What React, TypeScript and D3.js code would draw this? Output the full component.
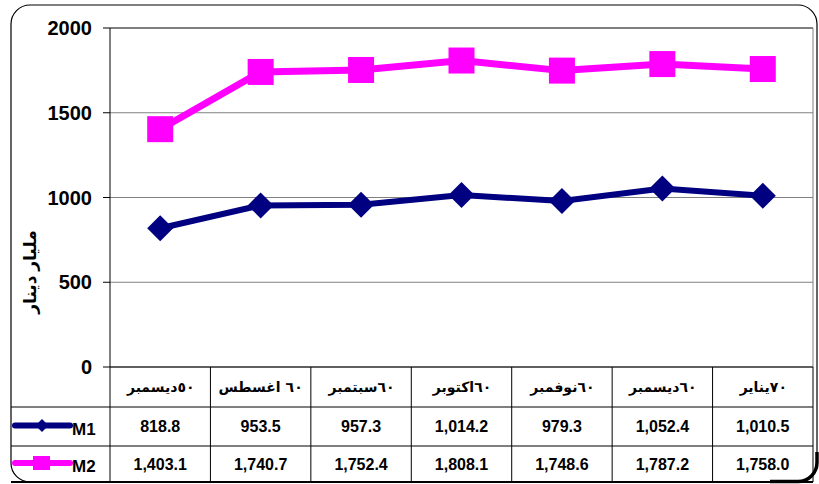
import React, { useLayoutEffect, useRef, useState } from 'react';
import * as d3 from 'd3';

// header labels: month word, then the year digits as they appear in the sheet
const monthNames = ['ديسمبر', 'اغسطس ', 'سبتمبر', 'اكتوبر', 'نوفمبر', 'ديسمبر', 'يناير'];
const yearLabels = ['٥٠', '٦٠', '٦٠', '٦٠', '٦٠', '٦٠', '٧٠'];
const categories = monthNames.map((m, i) => `${i}-${m.trim()}`);
const m1Values = [818.8, 953.5, 957.3, 1014.2, 979.3, 1052.4, 1010.5];
const m2Values = [1403.1, 1740.7, 1752.4, 1808.1, 1748.6, 1787.2, 1758.0];
const yTicks = [0, 500, 1000, 1500, 2000];
const yTitle = 'مليار دينار';

const WIDTH = 819;
const HEIGHT = 484;
const plot = { left: 110, right: 813, top: 28, bottom: 367 };
const rows = { header: 407, m1: 446, end: 482 };

const NAVY = '#000080';
const PINK = '#FF00FF';
const FONT = 'Arial, "Liberation Sans", "DejaVu Sans", sans-serif';

const fmt = d3.format(',.1f');

export default function App() {
  const headerRefs = useRef<(SVGGElement | null)[]>([]);
  const [shifts, setShifts] = useState<number[]>(monthNames.map(() => 0));

  const xBand = d3
    .scaleBand()
    .domain(categories)
    .range([plot.left, plot.right]);

  const xCenter = (c: string) => (xBand(c) || 0) + xBand.bandwidth() / 2;

  const yScale = d3
    .scaleLinear()
    .domain([0, 2000])
    .range([plot.bottom, plot.top]);

  const line = d3
    .line<number>()
    .x((_, i) => xCenter(categories[i]))
    .y(d => yScale(d))
    .curve(d3.curveLinear);

  const diamond = (cx: number, cy: number, r: number) =>
    `M${cx},${cy - r}L${cx + r},${cy}L${cx},${cy + r}L${cx - r},${cy}Z`;

  // centre each header label (two pieces) inside its cell
  useLayoutEffect(() => {
    const s = headerRefs.current.map(g => {
      if (!g) return 0;
      const b = g.getBBox();
      return -(b.x + b.width / 2);
    });
    setShifts(s);
  }, []);

  const m1Row = (rows.header + rows.m1) / 2;
  const m2Row = (rows.m1 + rows.end) / 2;
  const headerY = (plot.bottom + rows.header) / 2;

  return (
    <svg
      width={WIDTH}
      height={HEIGHT}
      style={{ position: 'absolute', left: 0, top: 0, background: '#fff' }}
      fontFamily={FONT}
    >
      {/* outer frame */}
      <rect x={11} y={5} width={806} height={477} rx={19} fill="#fff" stroke="#000" strokeWidth={1.2} />
      <path d="M 770 481.5 H 798 A 19 19 0 0 0 817 462.5 V 452" fill="none" stroke="#000" strokeWidth={3.5} />

      {/* gridlines */}
      {yTicks.map(t => (
        <line
          key={t}
          x1={plot.left}
          x2={plot.right}
          y1={yScale(t)}
          y2={yScale(t)}
          stroke={t === 2000 ? '#000' : '#808080'}
          strokeWidth={1}
        />
      ))}
      <line x1={plot.right} x2={plot.right} y1={plot.top} y2={plot.bottom} stroke="#808080" />

      {/* y axis */}
      <line x1={plot.left} x2={plot.left} y1={plot.top} y2={rows.end} stroke="#000" />
      {yTicks.map(t => (
        <g key={t} transform={`translate(0,${yScale(t)})`}>
          <line x1={plot.left - 7} x2={plot.left} stroke="#000" />
          <text x={92} dy="0.36em" textAnchor="end" fontSize={20} fontWeight="bold">
            {t}
          </text>
        </g>
      ))}
      <text
        transform={`translate(36,${272}) rotate(-90)`}
        textAnchor="middle"
        fontSize={17}
        fontWeight="bold"
        fill="#000"
      >
        {yTitle}
      </text>

      {/* series */}
      <path d={line(m2Values) || ''} fill="none" stroke={PINK} strokeWidth={7} />
      {m2Values.map((v, i) => (
        <rect
          key={i}
          x={xCenter(categories[i]) - 13}
          y={yScale(v) - 13}
          width={26}
          height={26}
          fill={PINK}
        />
      ))}
      <path d={line(m1Values) || ''} fill="none" stroke={NAVY} strokeWidth={6} />
      {m1Values.map((v, i) => (
        <path key={i} d={diamond(xCenter(categories[i]), yScale(v), 13)} fill={NAVY} />
      ))}

      {/* data table */}
      <line x1={plot.left} x2={plot.right} y1={plot.bottom} y2={plot.bottom} stroke="#000" />
      <line x1={11} x2={plot.right} y1={rows.header} y2={rows.header} stroke="#000" />
      <line x1={11} x2={plot.right} y1={rows.m1} y2={rows.m1} stroke="#000" />
      <line x1={11} x2={plot.right} y1={rows.end} y2={rows.end} stroke="#000" strokeWidth={2} />
      {categories.map((c, i) => (
        <line
          key={i}
          x1={(xBand(c) || 0) + xBand.bandwidth()}
          x2={(xBand(c) || 0) + xBand.bandwidth()}
          y1={plot.bottom}
          y2={rows.end}
          stroke="#000"
        />
      ))}
      {categories.map((c, i) => (
        <g key={i} transform={`translate(${xCenter(c) + shifts[i]},${headerY})`}>
          <g ref={el => { headerRefs.current[i] = el; }}>
            <text x={0} dy="0.35em" textAnchor="end" fontSize={14} fontWeight="bold">
              {monthNames[i].trim()}
            </text>
            <text
              x={monthNames[i].endsWith(' ') ? 5 : 0}
              dy="0.35em"
              textAnchor="start"
              fontSize={14}
              fontWeight="bold"
            >
              {yearLabels[i]}
            </text>
          </g>
        </g>
      ))}
      {m1Values.map((v, i) => (
        <text
          key={i}
          x={xCenter(categories[i])}
          y={m1Row}
          dy="0.36em"
          textAnchor="middle"
          fontSize={16}
          fontWeight="bold"
        >
          {fmt(v)}
        </text>
      ))}
      {m2Values.map((v, i) => (
        <text
          key={i}
          x={xCenter(categories[i])}
          y={m2Row}
          dy="0.36em"
          textAnchor="middle"
          fontSize={16}
          fontWeight="bold"
        >
          {fmt(v)}
        </text>
      ))}

      {/* legend keys */}
      <line x1={15} x2={70} y1={m1Row - 1} y2={m1Row - 1} stroke={NAVY} strokeWidth={6} strokeLinecap="round" />
      <path d={diamond(42, m1Row - 1, 6.5)} fill={NAVY} />
      <text x={72} y={m1Row + 2} dy="0.36em" fontSize={17} fontWeight="bold">M1</text>
      <line x1={15} x2={70} y1={m2Row - 1} y2={m2Row - 1} stroke={PINK} strokeWidth={6} strokeLinecap="round" />
      <rect x={33} y={m2Row - 8} width={17} height={14} fill={PINK} />
      <text x={72} y={m2Row + 2} dy="0.36em" fontSize={17} fontWeight="bold">M2</text>
    </svg>
  );
}
